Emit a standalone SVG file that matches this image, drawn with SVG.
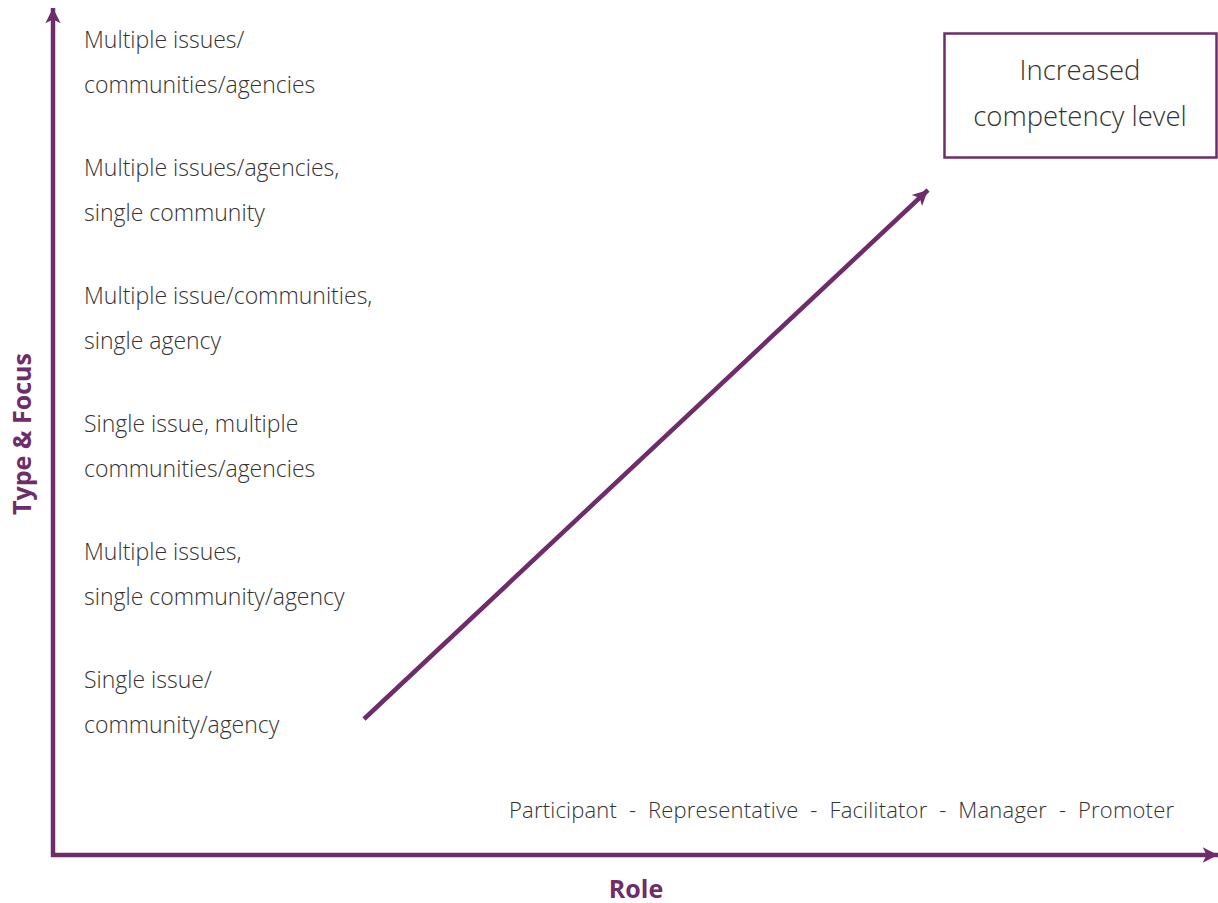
<svg xmlns="http://www.w3.org/2000/svg" width="1218" height="903" viewBox="0 0 1218 903">
<style>
.lbl{font-family:"Open Sans","Noto Sans","Liberation Sans",sans-serif;font-size:23px;fill:#333;font-weight:300}
.rl{font-family:"Open Sans","Noto Sans","Liberation Sans",sans-serif;font-size:22px;fill:#333;font-weight:300}
.box{font-family:"Open Sans","Noto Sans","Liberation Sans",sans-serif;font-size:27.5px;fill:#333;font-weight:300}
.axis{font-family:"Open Sans","Noto Sans","Liberation Sans",sans-serif;font-size:25px;fill:#6f2c6b;font-weight:bold}
.ln{stroke:#6f2c6b;stroke-width:4.5;fill:none}
</style>
<defs>
<marker id="ah" viewBox="0 0 10 10" refX="10" refY="5" markerWidth="6" markerHeight="3.4" markerUnits="strokeWidth" orient="auto">
<path d="M0,0 L10,5 L0,10 L2.5,5 Z" fill="#6f2c6b"/>
</marker>
</defs>
<rect width="1218" height="903" fill="#fff"/>
<g id="connectors">
<line class="ln" x1="53" y1="857" x2="53" y2="8" marker-end="url(#ah)"/>
<line class="ln" x1="51" y1="855" x2="1218" y2="855" marker-end="url(#ah)"/>
<line class="ln" x1="364" y1="719" x2="928" y2="190" marker-end="url(#ah)"/>
</g>
<g id="axis-y"><text class="axis" transform="translate(31,434) rotate(-90)" text-anchor="middle">Type &amp; Focus</text></g>
<g id="axis-x"><text class="axis" x="636" y="898" text-anchor="middle">Role</text></g>
<g id="levels">
<text class="lbl" x="84" y="48">Multiple issues/</text>
<text class="lbl" x="84" y="93">communities/agencies</text>
<text class="lbl" x="84" y="176">Multiple issues/agencies,</text>
<text class="lbl" x="84" y="221">single community</text>
<text class="lbl" x="84" y="304">Multiple issue/communities,</text>
<text class="lbl" x="84" y="349">single agency</text>
<text class="lbl" x="84" y="432">Single issue, multiple</text>
<text class="lbl" x="84" y="477">communities/agencies</text>
<text class="lbl" x="84" y="560">Multiple issues,</text>
<text class="lbl" x="84" y="605">single community/agency</text>
<text class="lbl" x="84" y="688">Single issue/</text>
<text class="lbl" x="84" y="733">community/agency</text>
</g>
<g id="roles"><text class="rl" x="509" y="818" xml:space="preserve" textLength="665">Participant  -  Representative  -  Facilitator  -  Manager  -  Promoter</text></g>
<g id="competency">
<rect x="944.5" y="33.5" width="272" height="124" fill="none" stroke="#6f2c6b" stroke-width="2.5"/>
<text class="box" x="1080" y="80" text-anchor="middle">Increased</text>
<text class="box" x="1080" y="126" text-anchor="middle">competency level</text>
</g>
</svg>
